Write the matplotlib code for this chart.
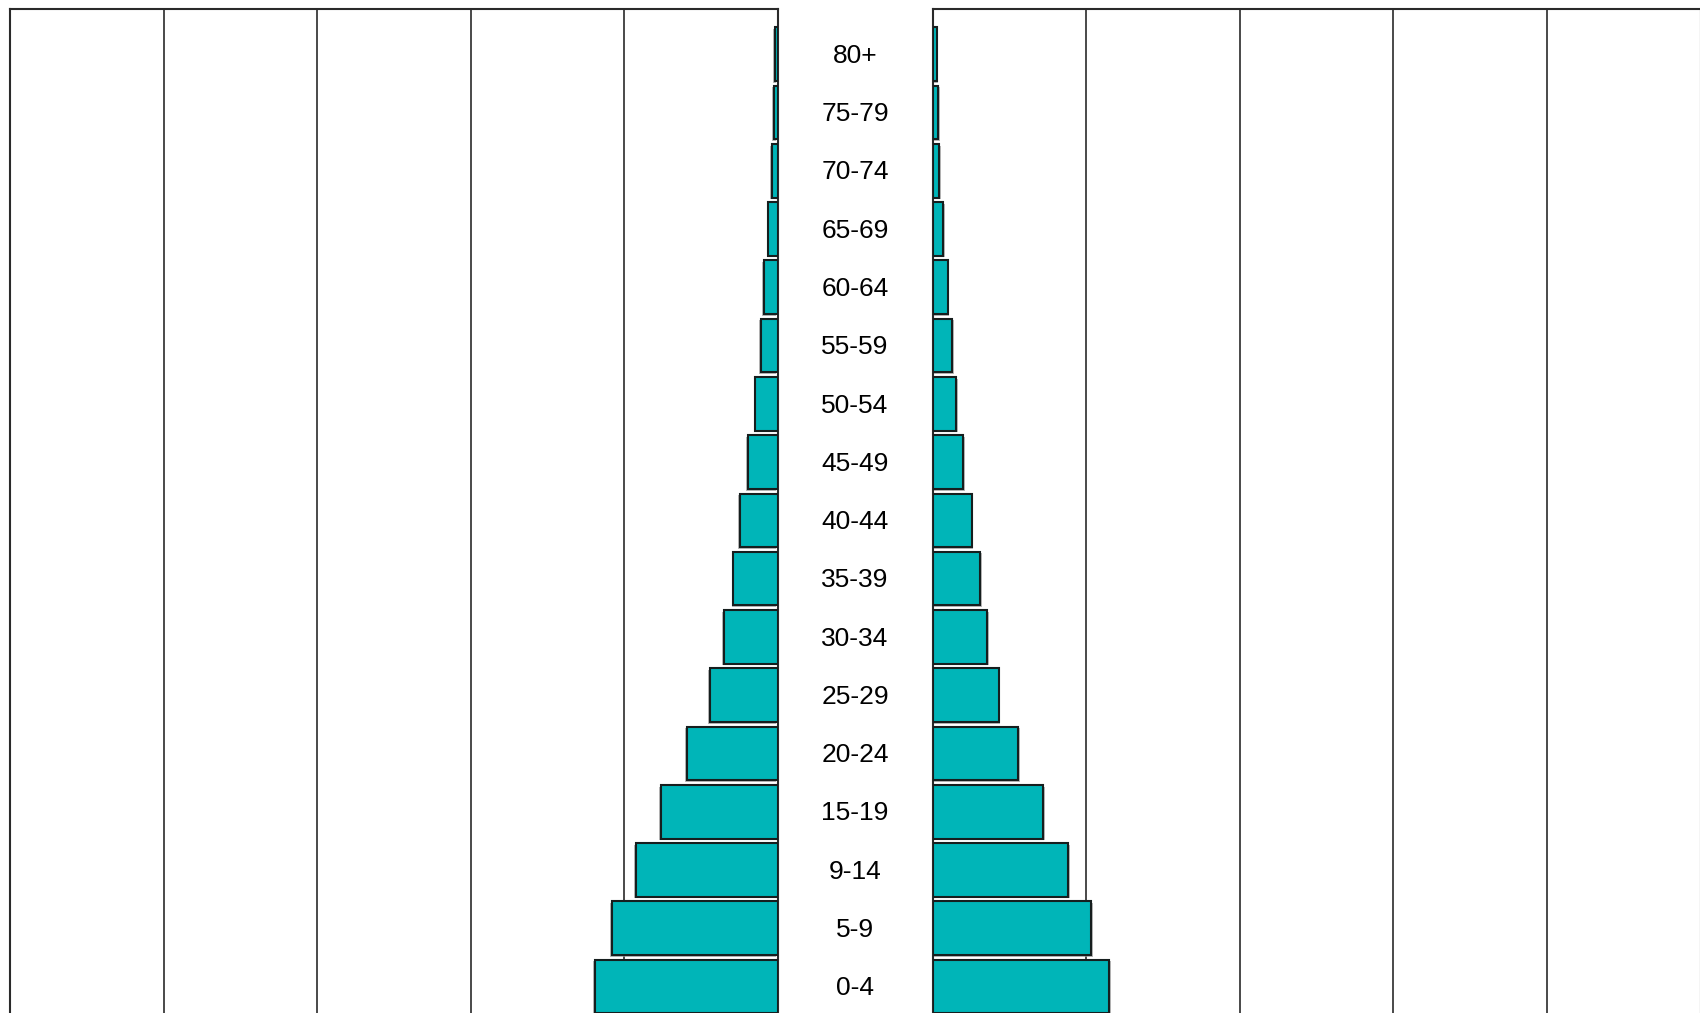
import matplotlib
matplotlib.use('Agg')
import matplotlib.pyplot as plt
import matplotlib.patheffects as pe
import matplotlib.transforms as mtransforms

# Data (bottom to top)
age_groups = ['0-4', '5-9', '9-14', '15-19', '20-24', '25-29', '30-34', '35-39',
              '40-44', '45-49', '50-54', '55-59', '60-64', '65-69', '70-74',
              '75-79', '80+']
male = [5.97, 5.40, 4.63, 3.81, 2.97, 2.22, 1.77, 1.45, 1.24, 0.99, 0.74,
        0.56, 0.46, 0.32, 0.21, 0.14, 0.11]
female = [5.76, 5.16, 4.41, 3.60, 2.79, 2.15, 1.77, 1.55, 1.27, 0.99, 0.78,
          0.64, 0.49, 0.35, 0.21, 0.18, 0.14]
x_ticks = [0, 5, 10, 15, 20, 25]

W, H = 1700, 1013
fig = plt.figure(figsize=(W / 100, H / 100), dpi=100)
fig.patch.set_facecolor('white')

top_px = 9
pitch = 58.27
y_top_center = 54.2
n = len(age_groups)
ytop = (n - 1) + (y_top_center - top_px) / pitch
ybot = -(H - (y_top_center + (n - 1) * pitch)) / pitch

bar_color = '#00B5B8'
edge_color = '#161e1e'
grid_color = '#2a2a2a'

axL = fig.add_axes([10 / W, 0, 768 / W, 1 - top_px / H])
axR = fig.add_axes([932.5 / W, 0, 768 / W, 1 - top_px / H])

ypos = list(range(n))
for ax, vals, sign in ((axL, male, -1), (axR, female, 1)):
    bars = ax.barh(ypos, vals, height=0.92, color=bar_color,
                   edgecolor=edge_color, linewidth=1.5, zorder=3)
    for b in bars:
        b.set_path_effects([pe.SimplePatchShadow(offset=(sign * 1.2, -1.2),
                                                 shadow_rgbFace='#9a9a9a',
                                                 alpha=0.7),
                            pe.Normal()])
    ax.set_ylim(ybot, ytop)
    ax.set_xticks(x_ticks)
    ax.set_yticks([])
    ax.xaxis.grid(True, color=grid_color, linewidth=1.2, zorder=0)
    ax.tick_params(axis='x', length=0, labelbottom=False)
    ax.spines['bottom'].set_visible(False)
    for s in ('top', 'left', 'right'):
        ax.spines[s].set_color(grid_color)
        ax.spines[s].set_linewidth(1.5)
    ax.set_facecolor('white')
    ax.set_axisbelow(True)

axL.set_xlim(25, 0)
axR.set_xlim(0, 25)

trans = mtransforms.blended_transform_factory(fig.transFigure, axL.transData)
for i, lab in enumerate(age_groups):
    fig.text(855 / W, i - 0.03, lab, transform=trans, ha='center', va='center',
             fontsize=19, family=['Liberation Sans', 'DejaVu Sans'],
             color='black')

fig.savefig('out.png', dpi=100, facecolor='white')
